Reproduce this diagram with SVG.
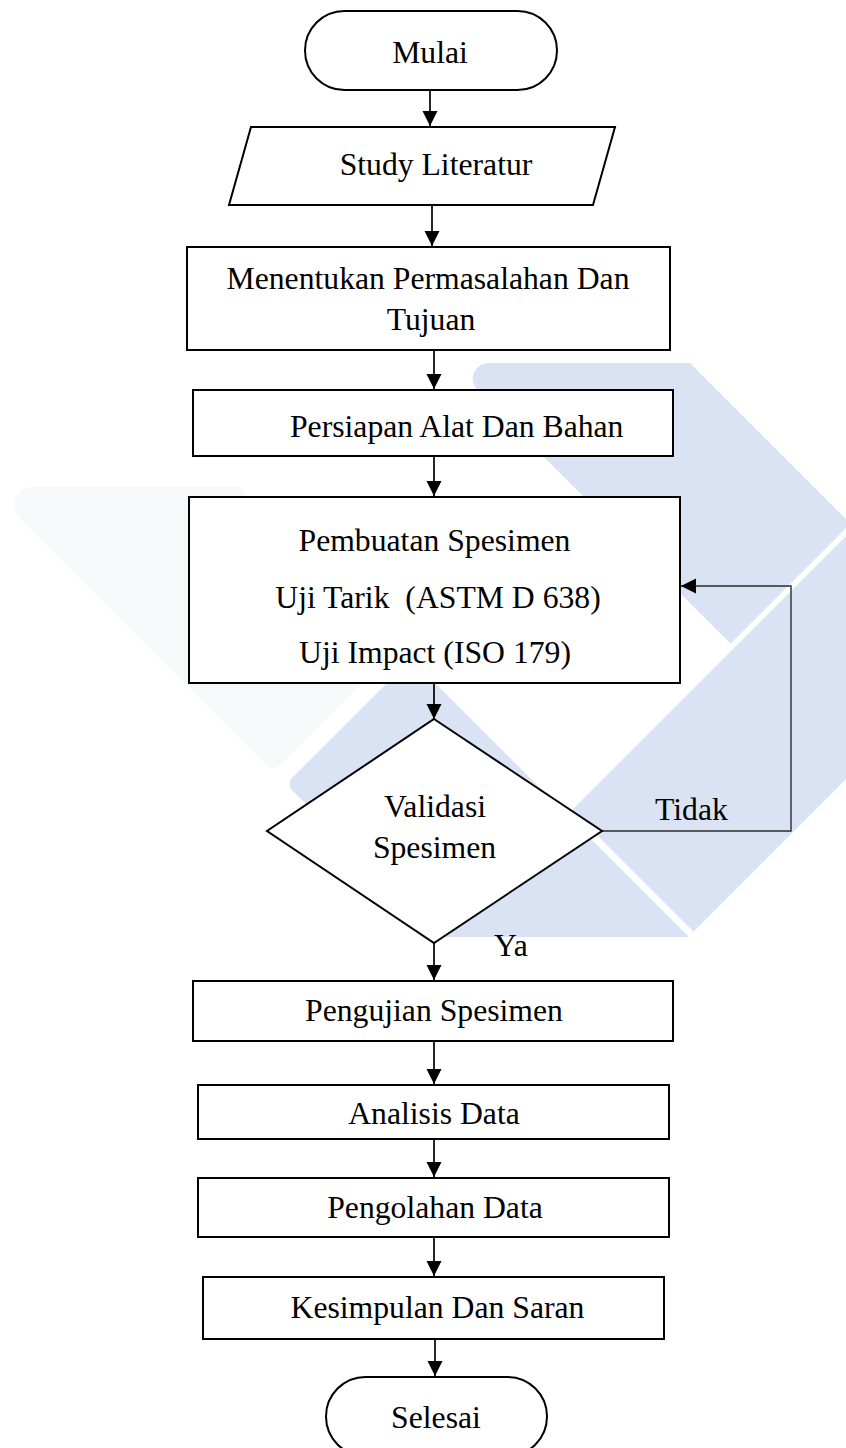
<svg xmlns="http://www.w3.org/2000/svg" width="846" height="1448" viewBox="0 0 846 1448">
  <defs>
    <style>
      .box { fill: #ffffff; stroke: #000000; stroke-width: 2; }
      .lbl { font-family: "Liberation Serif", "Times New Roman", serif; font-size: 31.7px; fill: #000000; }
      .mid { text-anchor: middle; }
      .wire { fill: none; stroke: #000000; stroke-width: 1.7; }
      .loop { fill: none; stroke: #2b2b2b; stroke-width: 1.4; }
      .wm-blue { fill: #dae3f3; }
      .wm-grey { fill: #f7f8fa; }
    </style>
    <marker id="head" markerUnits="userSpaceOnUse" markerWidth="16" markerHeight="16" refX="15" refY="7.5" orient="auto">
      <path d="M0,0 L15,7.5 L0,15 Z" fill="#000000"/>
    </marker>
  </defs>

  <rect width="846" height="1448" fill="#ffffff"/>

  <!-- background emblem -->
  <g id="emblem">
    <path class="wm-grey" d="M32.5,487 L239,487 L398.5,646.5 L279.2,765.8 A8 8 0 0 1 267.8,765.8 L19.7,517.7 A18 18 0 0 1 32.5,487 Z"/>
    <path class="wm-blue" d="M411,659 L689,937 L439,937 L291.7,789.7 A8 8 0 0 1 291.7,778.3 Z"/>
    <path class="wm-blue" d="M488.6,363 L690,363 L850.5,523.5 L730.5,643.5 L477.3,390.3 A16 16 0 0 1 488.6,363 Z"/>
    <path class="wm-blue" d="M572,810 L900,482 L900,725 L693.5,931.5 Z"/>
  </g>

  <!-- connectors -->
  <g id="connectors">
    <line class="wire" x1="430" y1="90" x2="430" y2="126" marker-end="url(#head)"/>
    <line class="wire" x1="432" y1="206" x2="432" y2="246" marker-end="url(#head)"/>
    <line class="wire" x1="434" y1="351" x2="434" y2="389" marker-end="url(#head)"/>
    <line class="wire" x1="434" y1="457" x2="434" y2="496" marker-end="url(#head)"/>
    <line class="wire" x1="434" y1="684" x2="434" y2="719" marker-end="url(#head)"/>
    <line class="wire" x1="434" y1="943" x2="434" y2="980" marker-end="url(#head)"/>
    <line class="wire" x1="434" y1="1042" x2="434" y2="1084" marker-end="url(#head)"/>
    <line class="wire" x1="434" y1="1140" x2="434" y2="1177" marker-end="url(#head)"/>
    <line class="wire" x1="434" y1="1238" x2="434" y2="1276" marker-end="url(#head)"/>
    <line class="wire" x1="435" y1="1340" x2="435" y2="1376" marker-end="url(#head)"/>
    <polyline class="loop" points="602,831 791,831 791,586 681,586" marker-end="url(#head)"/>
  </g>

  <g id="mulai">
    <rect class="box" x="305" y="11" width="252" height="79" rx="39.5"/>
    <text class="lbl mid" x="430" y="63">Mulai</text>
  </g>

  <g id="study-literatur">
    <polygon class="box" points="251,127 615,127 593,205 229,205"/>
    <text class="lbl mid" x="436" y="175">Study Literatur</text>
  </g>

  <g id="permasalahan">
    <rect class="box" x="187" y="247" width="483" height="103"/>
    <text class="lbl mid" x="428" y="289">Menentukan Permasalahan Dan</text>
    <text class="lbl mid" x="431" y="330">Tujuan</text>
  </g>

  <g id="persiapan">
    <rect class="box" x="193" y="390" width="480" height="66"/>
    <text class="lbl mid" x="456.7" y="437">Persiapan Alat Dan Bahan</text>
  </g>

  <g id="pembuatan">
    <rect class="box" x="189" y="497" width="491" height="186"/>
    <text class="lbl mid" x="434.5" y="551">Pembuatan Spesimen</text>
    <text class="lbl mid" x="438" y="608" xml:space="preserve">Uji Tarik  (ASTM D 638)</text>
    <text class="lbl mid" x="435" y="663">Uji Impact (ISO 179)</text>
  </g>

  <g id="validasi">
    <polygon class="box" points="434,719 602,831 434,943 267,831"/>
    <text class="lbl mid" x="435" y="817">Validasi</text>
    <text class="lbl mid" x="434.5" y="858">Spesimen</text>
  </g>

  <g id="edge-labels">
    <text class="lbl" x="655" y="820">Tidak</text>
    <text class="lbl" x="494" y="956">Ya</text>
  </g>

  <g id="pengujian">
    <rect class="box" x="193" y="981" width="480" height="60"/>
    <text class="lbl mid" x="434" y="1021">Pengujian Spesimen</text>
  </g>

  <g id="analisis">
    <rect class="box" x="198" y="1085" width="471" height="54"/>
    <text class="lbl mid" x="434" y="1124">Analisis Data</text>
  </g>

  <g id="pengolahan">
    <rect class="box" x="198" y="1178" width="471" height="59"/>
    <text class="lbl mid" x="435" y="1218">Pengolahan Data</text>
  </g>

  <g id="kesimpulan">
    <rect class="box" x="203" y="1277" width="461" height="62"/>
    <text class="lbl mid" x="437.5" y="1318">Kesimpulan Dan Saran</text>
  </g>

  <g id="selesai">
    <rect class="box" x="326" y="1377" width="221" height="79" rx="39.5"/>
    <text class="lbl mid" x="436" y="1428">Selesai</text>
  </g>
</svg>
